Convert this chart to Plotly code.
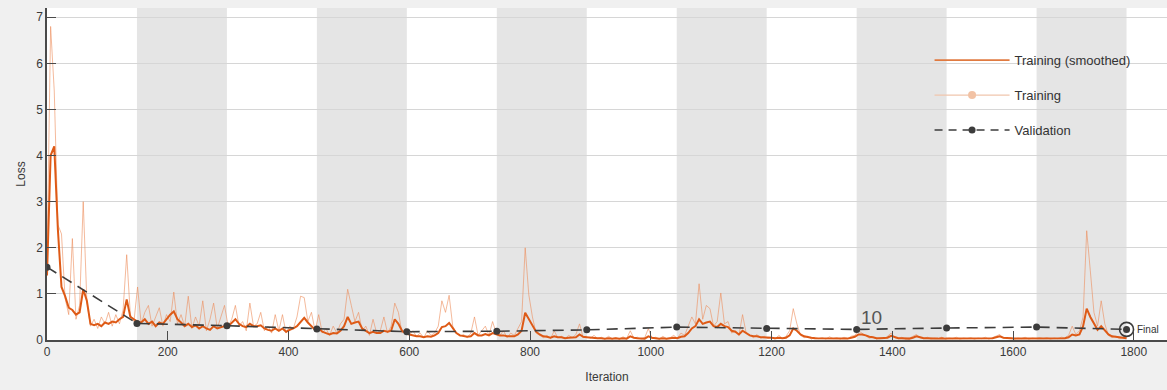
import plotly.graph_objects as go

# ---------------- data ----------------
ITERS_PER_EPOCH = 149
NUM_EPOCHS = 12
STEP = 6  # training values read every 6 iterations

training_raw = [
    1.6, 6.8, 5.4, 2.5, 2.3, 0.9, 0.55, 2.2, 0.45, 0.75, 3.0, 0.85, 0.3, 0.45, 0.25, 0.5, 0.35, 0.6, 0.3, 0.55, 0.35, 0.65, 1.85, 0.55, 0.4,
    1.15, 0.35, 0.6, 0.75, 0.3, 0.5, 0.7, 0.3, 0.55, 0.4, 1.04, 0.35, 0.55, 0.3, 0.95, 0.25, 0.5, 0.3, 0.85, 0.2, 0.45, 0.8, 0.25, 0.5, 0.75,
    0.3, 0.45, 0.75, 0.3, 0.4, 0.2, 0.8, 0.3, 0.35, 0.6, 0.2, 0.3, 0.15, 0.55, 0.2, 0.55, 0.15, 0.3, 0.25, 0.5, 0.95, 0.92, 0.4, 0.6, 0.2,
    0.55, 0.15, 0.25, 0.1, 0.3, 0.15, 0.35, 0.45, 1.1, 0.75, 0.4, 0.6, 0.2, 0.3, 0.1, 0.45, 0.15, 0.2, 0.5, 0.15, 0.3, 0.8, 0.6, 0.15, 0.25,
    0.1, 0.2, 0.08, 0.15, 0.05, 0.2, 0.1, 0.15, 0.3, 0.85, 0.6, 0.97, 0.3, 0.15, 0.08, 0.12, 0.05, 0.15, 0.5, 0.1, 0.2, 0.3, 0.1, 0.4, 0.15,
    0.1, 0.2, 0.05, 0.15, 0.1, 0.25, 0.4, 2.0, 0.98, 0.5, 0.15, 0.1, 0.05, 0.1, 0.03, 0.2, 0.05, 0.08, 0.03, 0.1, 0.05, 0.12, 0.35, 0.05, 0.08,
    0.04, 0.1, 0.03, 0.06, 0.02, 0.08, 0.03, 0.05, 0.02, 0.07, 0.03, 0.2, 0.04, 0.06, 0.02, 0.05, 0.25, 0.03, 0.06, 0.02, 0.08, 0.03, 0.05, 0.1, 0.04,
    0.15, 0.1, 0.3, 0.5, 0.35, 1.22, 0.45, 0.75, 0.68, 0.3, 0.4, 1.02, 0.35, 0.4, 0.15, 0.2, 0.1, 0.55, 0.15, 0.1, 0.05, 0.12, 0.04, 0.08, 0.03,
    0.06, 0.02, 0.1, 0.04, 0.08, 0.2, 0.68, 0.35, 0.1, 0.05, 0.08, 0.02, 0.06, 0.03, 0.05, 0.02, 0.07, 0.03, 0.05, 0.02, 0.06, 0.03, 0.08, 0.1, 0.2,
    0.15, 0.1, 0.04, 0.06, 0.02, 0.05, 0.03, 0.08, 0.15, 0.05, 0.03, 0.06, 0.02, 0.04, 0.08, 0.12, 0.05, 0.03, 0.06, 0.02, 0.04, 0.03, 0.06, 0.02, 0.04,
    0.03, 0.06, 0.02, 0.04, 0.03, 0.05, 0.02, 0.04, 0.03, 0.06, 0.02, 0.05, 0.08, 0.12, 0.04, 0.03, 0.05, 0.02, 0.04, 0.03, 0.06, 0.02, 0.04, 0.03, 0.05,
    0.03, 0.05, 0.02, 0.04, 0.03, 0.06, 0.05, 0.1, 0.3, 0.12, 0.2, 0.5, 2.37, 1.5, 0.6, 0.3, 0.85, 0.35, 0.1, 0.05, 0.08, 0.03, 0.05, 0.04,
]

training_smoothed = [
    1.4, 4.0, 4.2, 2.4, 1.15, 0.95, 0.7, 0.65, 0.55, 0.6, 1.1, 0.85, 0.35, 0.32, 0.35, 0.3, 0.38, 0.35, 0.4, 0.38, 0.45, 0.5, 0.88, 0.5, 0.45,
    0.4, 0.38, 0.45, 0.35, 0.4, 0.3, 0.38, 0.35, 0.45, 0.55, 0.62, 0.45, 0.38, 0.3, 0.35, 0.28, 0.32, 0.25, 0.3, 0.25, 0.22, 0.3, 0.25, 0.28, 0.3,
    0.3, 0.38, 0.45, 0.35, 0.3, 0.28, 0.35, 0.3, 0.3, 0.32, 0.25, 0.22, 0.2, 0.25, 0.2, 0.25, 0.18, 0.22, 0.25, 0.3, 0.4, 0.48, 0.38, 0.3, 0.22,
    0.25, 0.18, 0.15, 0.12, 0.15, 0.14, 0.2, 0.3, 0.5, 0.35, 0.38, 0.4, 0.25, 0.2, 0.15, 0.18, 0.15, 0.15, 0.2, 0.18, 0.2, 0.45, 0.35, 0.2, 0.15,
    0.12, 0.1, 0.08, 0.08, 0.06, 0.08, 0.07, 0.1, 0.15, 0.28, 0.3, 0.37, 0.25, 0.15, 0.1, 0.08, 0.07, 0.08, 0.15, 0.1, 0.1, 0.13, 0.1, 0.15, 0.12,
    0.1, 0.1, 0.08, 0.08, 0.08, 0.12, 0.2, 0.59, 0.45, 0.3, 0.18, 0.12, 0.08, 0.07, 0.05, 0.08, 0.06, 0.06, 0.04, 0.05, 0.05, 0.06, 0.12, 0.07, 0.06,
    0.05, 0.05, 0.04, 0.04, 0.03, 0.04, 0.03, 0.04, 0.03, 0.04, 0.03, 0.08, 0.05, 0.04, 0.03, 0.03, 0.08, 0.05, 0.04, 0.03, 0.04, 0.03, 0.04, 0.05, 0.04,
    0.07, 0.08, 0.15, 0.25, 0.3, 0.45, 0.35, 0.38, 0.4, 0.3, 0.28, 0.35, 0.3, 0.28, 0.2, 0.18, 0.12, 0.2, 0.14, 0.1, 0.08, 0.08, 0.06, 0.06, 0.05,
    0.05, 0.04, 0.05, 0.04, 0.05, 0.1, 0.25, 0.2, 0.12, 0.08, 0.06, 0.05, 0.04, 0.04, 0.04, 0.03, 0.04, 0.03, 0.04, 0.03, 0.04, 0.03, 0.05, 0.07, 0.12,
    0.12, 0.1, 0.07, 0.06, 0.04, 0.04, 0.04, 0.05, 0.09, 0.06, 0.04, 0.04, 0.03, 0.03, 0.05, 0.08, 0.06, 0.04, 0.04, 0.03, 0.03, 0.03, 0.04, 0.03, 0.03,
    0.03, 0.04, 0.03, 0.03, 0.03, 0.04, 0.03, 0.03, 0.03, 0.04, 0.03, 0.04, 0.06, 0.08, 0.05, 0.04, 0.04, 0.03, 0.03, 0.03, 0.04, 0.03, 0.03, 0.03, 0.04,
    0.03, 0.04, 0.03, 0.03, 0.03, 0.04, 0.04, 0.06, 0.12, 0.1, 0.12, 0.3, 0.68, 0.5, 0.35, 0.22, 0.3, 0.22, 0.12, 0.08, 0.07, 0.05, 0.05, 0.04,
]

validation_loss = [1.58, 0.36, 0.31, 0.24, 0.18, 0.19, 0.22, 0.28, 0.25, 0.23, 0.26, 0.28, 0.23]

x_tick_vals = [0, 200, 400, 600, 800, 1000, 1200, 1400, 1600, 1800]
y_tick_vals = [0, 1, 2, 3, 4, 5, 6, 7]

# ---------------- derived positions ----------------
train_iters = [i * STEP for i in range(len(training_raw))]
val_iters = [k * ITERS_PER_EPOCH for k in range(NUM_EPOCHS + 1)]

SMOOTH_COLOR = "#de5a16"
RAW_COLOR = "rgba(236,140,90,0.6)"
VAL_COLOR = "#3c3c3c"
AXIS_COLOR = "#4a4a4a"
TEXT_COLOR = "#3a3a3a"

fig = go.Figure()

fig.add_trace(go.Scatter(
    x=train_iters, y=training_raw, mode="lines",
    line=dict(color=RAW_COLOR, width=1), showlegend=False, hoverinfo="skip"))
fig.add_trace(go.Scatter(
    x=train_iters, y=training_smoothed, mode="lines",
    line=dict(color=SMOOTH_COLOR, width=2), showlegend=False))
fig.add_trace(go.Scatter(
    x=val_iters, y=validation_loss, mode="lines+markers",
    line=dict(color=VAL_COLOR, width=1.6, dash="11px,7px"),
    marker=dict(color=VAL_COLOR, size=7), showlegend=False))
fig.add_trace(go.Scatter(
    x=[val_iters[-1]], y=[validation_loss[-1]], mode="markers",
    marker=dict(symbol="circle-open-dot", size=14, color=VAL_COLOR,
                line=dict(width=1.6, color=VAL_COLOR)),
    showlegend=False))

# legend entries
fig.add_trace(go.Scatter(x=[None], y=[None], mode="lines", name="Training (smoothed)",
                         line=dict(color="#e07a40", width=1.6), legendgroup="a"))
fig.add_trace(go.Scatter(x=[None], y=[None], mode="lines+markers", name="Training",
                         line=dict(color="#f0c6ad", width=1.2),
                         marker=dict(color="#f2c2a4", size=8), legendgroup="b"))
fig.add_trace(go.Scatter(x=[None], y=[None], mode="lines+markers", name="Validation",
                         line=dict(color=VAL_COLOR, width=1.4, dash="8px,6px"),
                         marker=dict(color=VAL_COLOR, size=7), legendgroup="c"))

# alternating epoch shading
shapes = []
for k in range(NUM_EPOCHS):
    if k % 2 == 1:
        shapes.append(dict(type="rect", xref="x", yref="paper",
                           x0=k * ITERS_PER_EPOCH, x1=(k + 1) * ITERS_PER_EPOCH,
                           y0=0, y1=1, fillcolor="#e5e5e5", line=dict(width=0),
                           layer="below"))

annotations = [
    dict(x=1366, y=0.48, xref="x", yref="y", text="10", showarrow=False,
         font=dict(size=19, color="#555555", family="Liberation Sans, Arial")),
    dict(x=val_iters[-1], y=validation_loss[-1], xref="x", yref="y", text="Final",
         showarrow=False, xanchor="left", xshift=8,
         font=dict(size=10, color="#333333", family="Liberation Sans, Arial")),
]

fig.update_layout(
    width=1167, height=390,
    margin=dict(l=47, r=0, t=8, b=50),
    paper_bgcolor="#f0f0f0", plot_bgcolor="#ffffff",
    font=dict(family="Liberation Sans, Arial, sans-serif", size=12, color=TEXT_COLOR),
    shapes=shapes, annotations=annotations,
    legend=dict(x=0.788, y=0.888, xanchor="left", yanchor="top",
                bgcolor="rgba(0,0,0,0)", font=dict(size=13, color="#333333"),
                itemwidth=75, tracegroupgap=15),
    xaxis=dict(range=[0, 1855], tickvals=x_tick_vals, showgrid=False, zeroline=False,
               automargin=False,
               showline=True, linecolor=AXIS_COLOR, linewidth=1.5,
               ticks="inside", ticklen=9, tickcolor=AXIS_COLOR, tickwidth=1.2,
               title=dict(text="Iteration", font=dict(size=12), standoff=14)),
    yaxis=dict(range=[0, 7.2], tickvals=y_tick_vals, showgrid=True, gridcolor="#d6d6d6",
               gridwidth=1, zeroline=False, automargin=False,
               showline=True, linecolor=AXIS_COLOR, linewidth=1.5,
               ticks="inside", ticklen=9, tickcolor=AXIS_COLOR, tickwidth=1.2,
               title=dict(text="Loss", font=dict(size=12), standoff=8)),
)

fig.write_html(
    "out.html",
    config={"displayModeBar": False},
    post_script="document.body.style.margin='0';document.body.style.background='#f0f0f0';",
)
